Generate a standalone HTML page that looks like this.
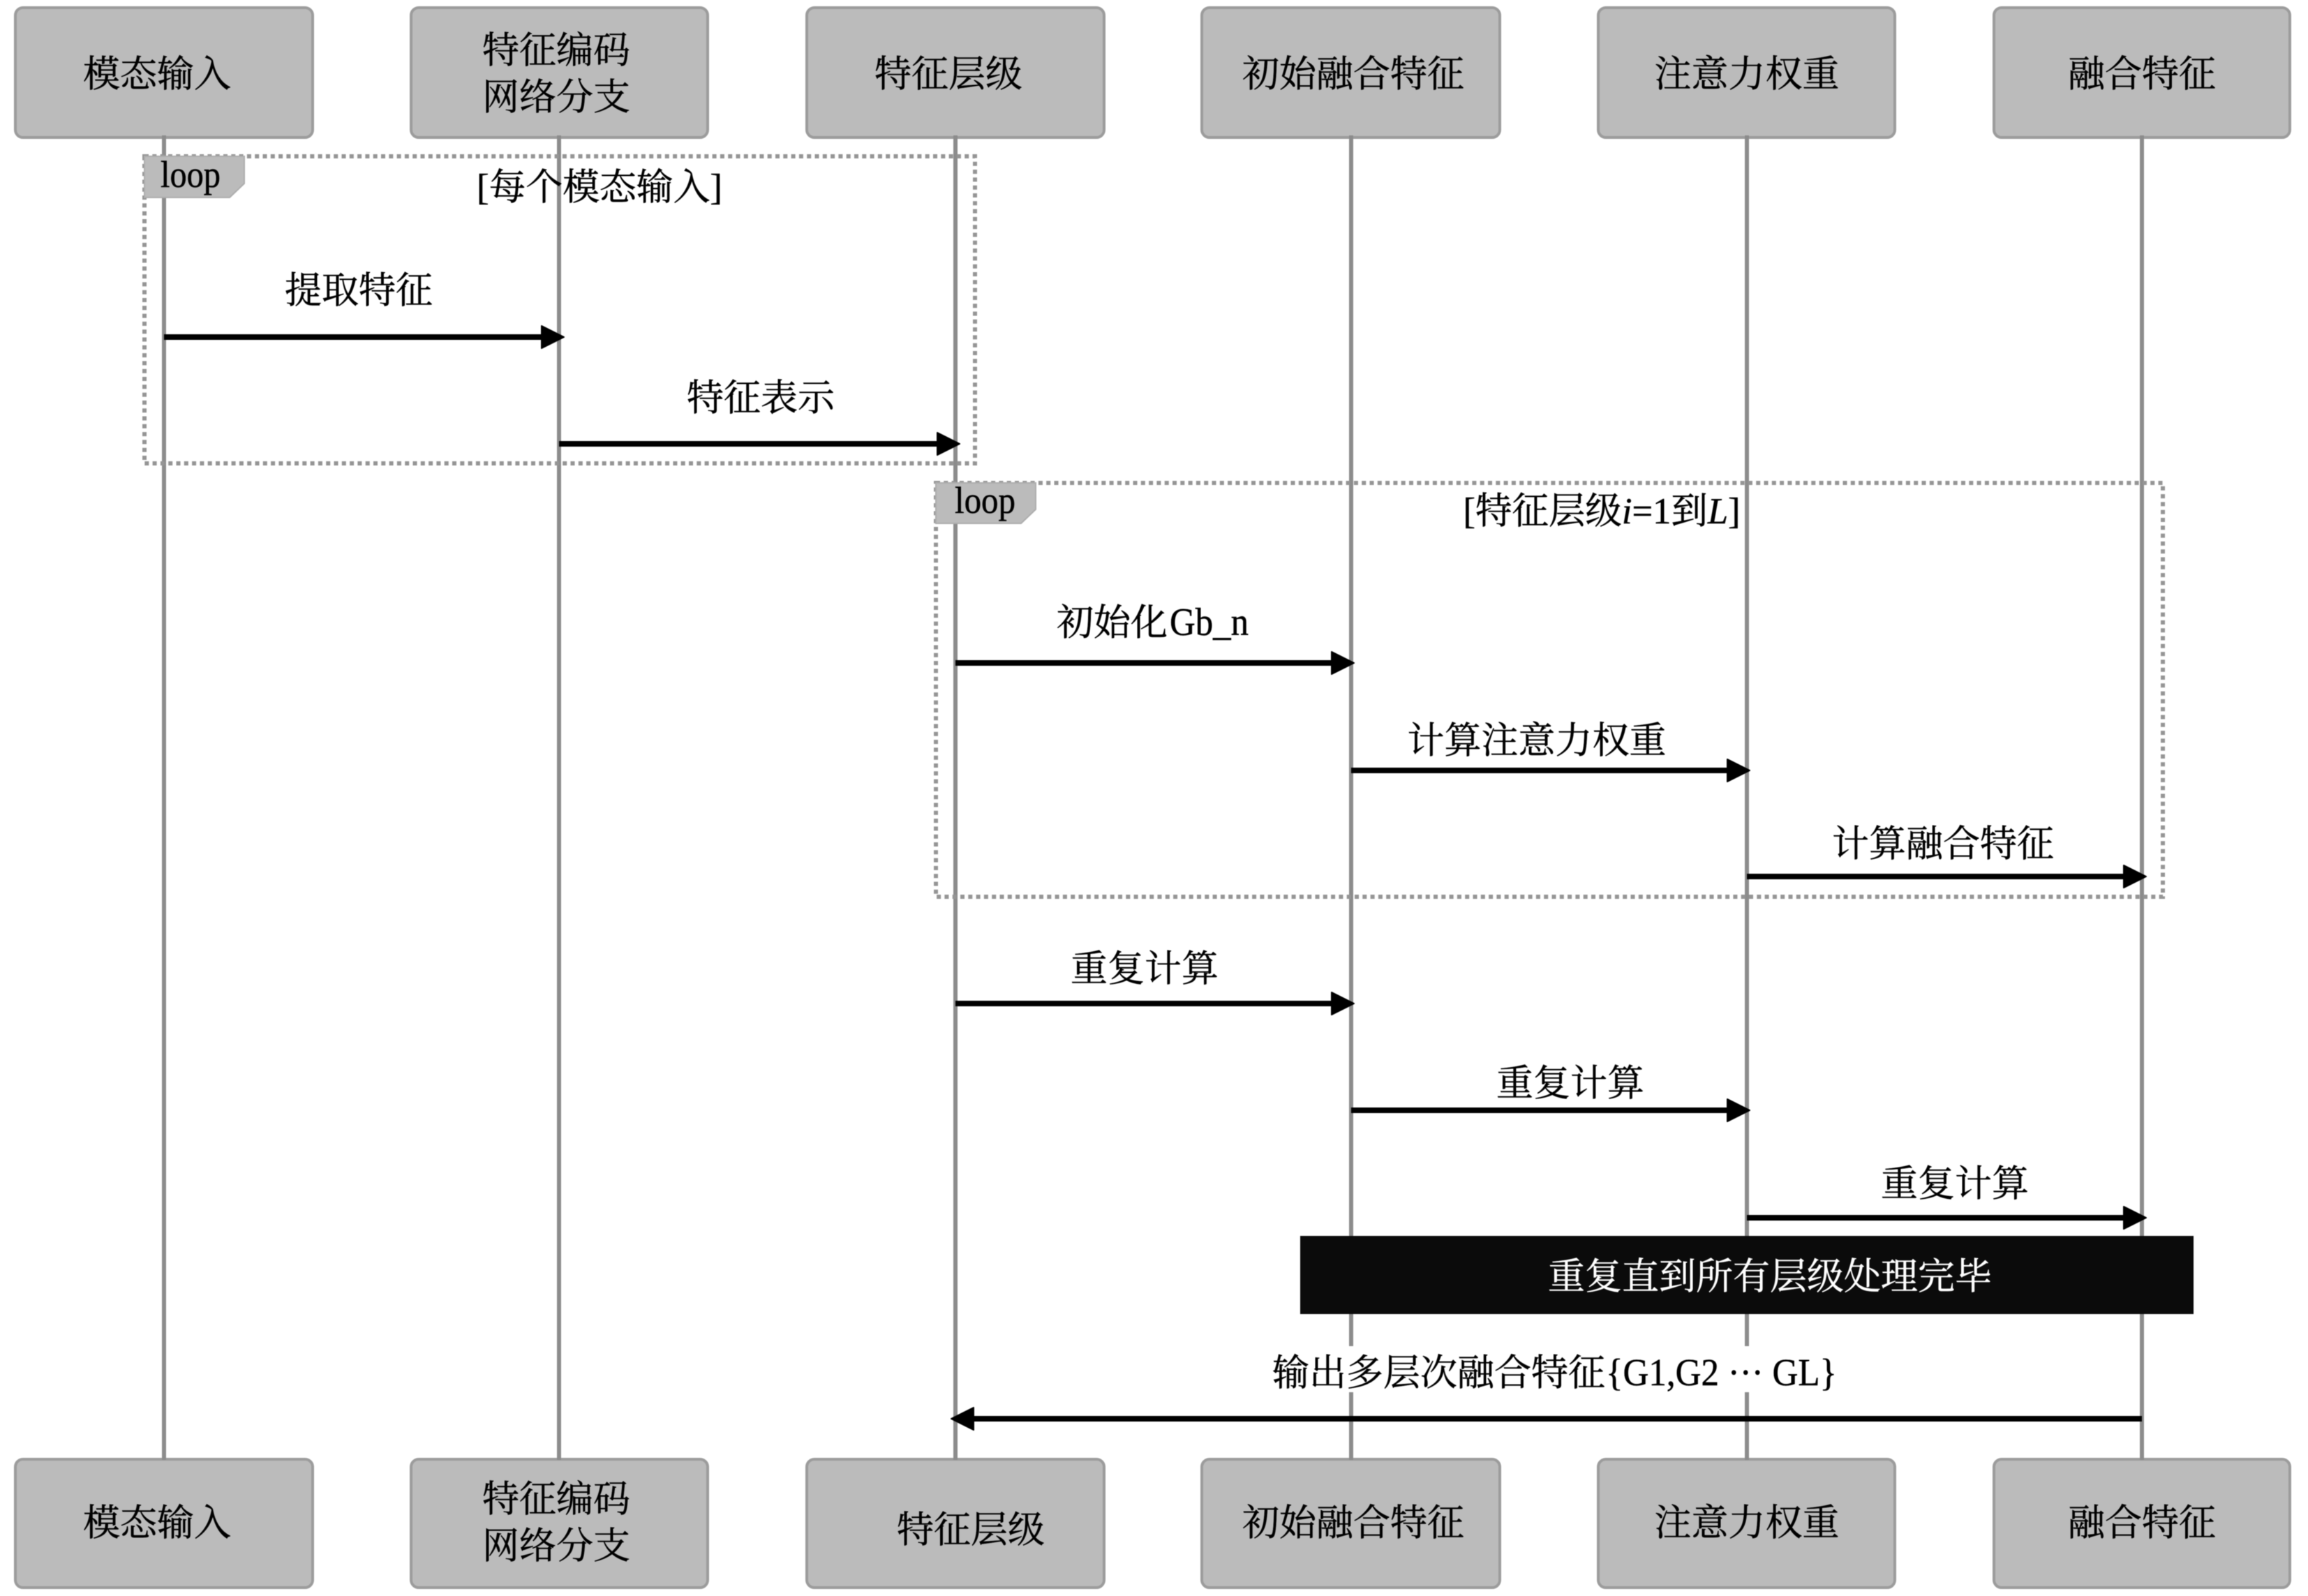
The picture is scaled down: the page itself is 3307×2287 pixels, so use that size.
<!DOCTYPE html>
<html lang="zh">
<head>
<meta charset="utf-8">
<title>Sequence diagram</title>
<style>
html,body{margin:0;padding:0;background:#fff;}
svg{display:block;filter:blur(0.6px);}
text{font-family:"Liberation Serif","Noto Serif CJK SC",serif;font-size:53px;fill:#000;stroke:#000;stroke-width:0.5px;text-anchor:middle;}
.s{text-anchor:start;}
.life{stroke:#8c8c8c;stroke-width:6;}
.box{fill:#bbbbbb;stroke:#9c9c9c;stroke-width:4;}
.loop{fill:none;stroke:#959595;stroke-width:6;stroke-dasharray:6 5.3;}
.tab{fill:#bbbbbb;stroke:#adadad;stroke-width:2;}
.msg{stroke:#000;stroke-width:8;}
.hd{fill:#000;stroke:#000;stroke-width:2;stroke-linejoin:round;}
</style>
</head>
<body>
<svg width="3307" height="2287" viewBox="0 0 3307 2287" xmlns="http://www.w3.org/2000/svg">
<rect width="3307" height="2287" fill="#fff"/>

<!-- top boxes -->
<rect class="box" x="22" y="11" width="426" height="186" rx="11"/>
<rect class="box" x="589" y="11" width="425" height="186" rx="11"/>
<rect class="box" x="1156" y="11" width="426" height="186" rx="11"/>
<rect class="box" x="1722" y="11" width="427" height="186" rx="11"/>
<rect class="box" x="2290" y="11" width="425" height="186" rx="11"/>
<rect class="box" x="2857" y="11" width="424" height="186" rx="11"/>
<text x="225" y="124">模态输入</text>
<text x="797" y="90">特征编码</text>
<text x="797" y="157">网络分支</text>
<text x="1359" y="124">特征层级</text>
<text x="1939" y="124">初始融合特征</text>
<text x="2503" y="124">注意力权重</text>
<text x="3069" y="124">融合特征</text>

<!-- bottom boxes -->
<rect class="box" x="22" y="2091" width="426" height="184" rx="11"/>
<rect class="box" x="589" y="2091" width="425" height="184" rx="11"/>
<rect class="box" x="1156" y="2091" width="426" height="184" rx="11"/>
<rect class="box" x="1722" y="2091" width="427" height="184" rx="11"/>
<rect class="box" x="2290" y="2091" width="425" height="184" rx="11"/>
<rect class="box" x="2857" y="2091" width="424" height="184" rx="11"/>
<text x="225" y="2200">模态输入</text>
<text x="797" y="2166">特征编码</text>
<text x="797" y="2233">网络分支</text>
<text x="1391" y="2210">特征层级</text>
<text x="1939" y="2200">初始融合特征</text>
<text x="2503" y="2200">注意力权重</text>
<text x="3069" y="2200">融合特征</text>

<!-- lifelines -->
<line class="life" x1="235" y1="194" x2="235" y2="2092"/>
<line class="life" x1="801" y1="194" x2="801" y2="2092"/>
<line class="life" x1="1369" y1="194" x2="1369" y2="2092"/>
<line class="life" x1="1936" y1="194" x2="1936" y2="2092"/>
<line class="life" x1="2503" y1="194" x2="2503" y2="2092"/>
<line class="life" x1="3069" y1="194" x2="3069" y2="2092"/>

<!-- loop 1 -->
<rect class="loop" x="207" y="224" width="1190" height="440"/>
<polygon class="tab" points="207,224 350,224 350,263 329,283 207,283"/>
<text class="s" x="230" y="268" style="font-size:54px" textLength="86" lengthAdjust="spacingAndGlyphs">loop</text>
<text x="859" y="286" textLength="352" lengthAdjust="spacingAndGlyphs">[每个模态输入]</text>

<!-- loop 2 -->
<rect class="loop" x="1341" y="692" width="1758" height="593"/>
<polygon class="tab" points="1341,692 1484,692 1484,730 1463,750 1341,750"/>
<text class="s" x="1368" y="735" style="font-size:54px" textLength="87" lengthAdjust="spacingAndGlyphs">loop</text>
<text x="2295" y="750" textLength="397" lengthAdjust="spacingAndGlyphs">[特征层级<tspan font-style="italic">i</tspan>=1到<tspan font-style="italic">L</tspan>]</text>

<!-- messages -->
<text x="514" y="434">提取特征</text>
<line class="msg" x1="235" y1="483" x2="785" y2="483"/>
<polygon class="hd" points="776,467 808,483 776,499"/>

<text x="1090" y="588">特征表示</text>
<line class="msg" x1="801" y1="636" x2="1352" y2="636"/>
<polygon class="hd" points="1343,620 1375,636 1343,652"/>

<text class="s" x="1514" y="910">初始化</text>
<text class="s" x="1676" y="910" style="font-size:56px" textLength="113" lengthAdjust="spacingAndGlyphs">Gb_n</text>
<line class="msg" x1="1369" y1="950" x2="1918" y2="950"/>
<polygon class="hd" points="1908,934 1940,950 1908,966"/>

<text x="2202" y="1079">计算注意力权重</text>
<line class="msg" x1="1936" y1="1104" x2="2485" y2="1104"/>
<polygon class="hd" points="2475,1088 2507,1104 2475,1120"/>

<text x="2784" y="1227">计算融合特征</text>
<line class="msg" x1="2503" y1="1256" x2="3053" y2="1256"/>
<polygon class="hd" points="3043,1240 3075,1256 3043,1272"/>

<text x="1640" y="1406">重复计算</text>
<line class="msg" x1="1369" y1="1438" x2="1918" y2="1438"/>
<polygon class="hd" points="1908,1422 1940,1438 1908,1454"/>

<text x="2250" y="1570">重复计算</text>
<line class="msg" x1="1936" y1="1591" x2="2485" y2="1591"/>
<polygon class="hd" points="2475,1575 2507,1591 2475,1607"/>

<text x="2801" y="1714">重复计算</text>
<line class="msg" x1="2503" y1="1745" x2="3053" y2="1745"/>
<polygon class="hd" points="3043,1729 3075,1745 3043,1761"/>

<!-- note -->
<rect x="1863" y="1771" width="1280" height="112" fill="#0b0b0b"/>
<text x="2536" y="1847" style="fill:#fff;stroke:#fff">重复直到所有层级处理完毕</text>

<!-- return -->
<rect x="1824" y="1929" width="808" height="66" fill="#fff"/>
<text class="s" x="1823" y="1985">输出多层次融合特征</text>
<text class="s" x="2301" y="1985" style="font-size:55px" textLength="331" lengthAdjust="spacingAndGlyphs">{G1,G2 ··· GL}</text>
<line class="msg" x1="1385" y1="2033" x2="3069" y2="2033"/>
<polygon class="hd" points="1395,2017 1363,2033 1395,2049"/>
</svg>
</body>
</html>
